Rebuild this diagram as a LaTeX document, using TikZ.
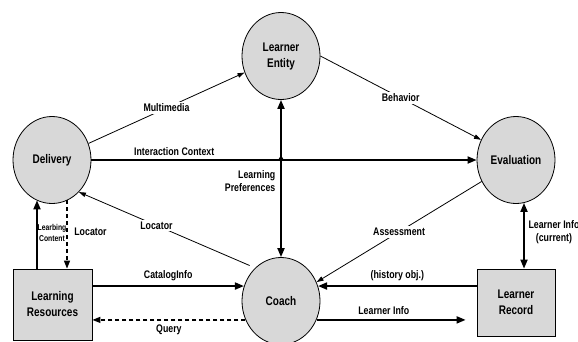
\documentclass[tikz,border=0pt]{standalone}
\usepackage{fontspec}
\setmainfont{Liberation Sans}[FakeStretch=0.8]
\usetikzlibrary{arrows.meta,shapes.geometric}
\definecolor{boxgray}{RGB}{216,216,216}

\begin{document}
\begin{tikzpicture}[x=1pt,y=-1pt,
  proc/.style={ellipse, draw, line width=0.8pt, fill=boxgray,
    minimum width=78pt, minimum height=87pt, inner sep=0pt, align=center,
    font=\fontsize{12.5}{16}\selectfont\bfseries},
  store/.style={rectangle, draw, line width=0.8pt, fill=boxgray,
    inner sep=0pt, align=center, font=\fontsize{12.5}{16}\selectfont\bfseries},
  lbl/.style={font=\fontsize{11}{13}\selectfont\bfseries, inner sep=1.5pt, align=center},
  smalllbl/.style={font=\fontsize{8.5}{10.5}\selectfont\bfseries, inner sep=0pt, align=center},
  flow/.style={line width=0.8pt, >={Triangle[length=7pt,width=4.5pt]}},
  heavy/.style={line width=1.8pt, >={Triangle[length=9pt,width=7pt]}},
  dashflow/.style={line width=1.3pt, dash pattern=on 4pt off 3pt,
    >={Triangle[length=8pt,width=6pt]}},
  cover/.style={fill=white, inner sep=2pt}
]
\useasboundingbox (0,0) rectangle (578,341);
\clip (0,0) rectangle (578,341);

% processes
\node[proc] (LE) at (281,56)  {Learner\\Entity};
\node[proc] (DL) at (52,160)  {Delivery};
\node[proc] (EV) at (516,160) {Evaluation};
\node[proc] (CO) at (281,301) {Coach};

% stores
\node[store, minimum width=79pt, minimum height=71pt] (LR) at (52.5,304.5) {Learning\\Resources};
\node[store, minimum width=78pt, minimum height=67pt] (RC) at (516,302.5) {Learner\\Record};

% upper triangle
\draw[flow,->] (DL) -- (LE) node[lbl, cover, midway] {Multimedia};
\draw[flow,->] (LE.east) -- (EV.150) node[lbl, cover, midway] {Behavior};
\draw[heavy,->] (DL.east) -- (EV.west)
  node[lbl, pos=0.215, above=2pt] {Interaction Context};
\draw[heavy,<->] (LE.south) -- (CO.north);
% small hop where the two heavy lines cross
\coordinate (X) at (LE.south |- DL.east);
\fill ([yshift=0.8pt]X) circle (2.3pt);
\node[lbl, anchor=east, align=right] (pref) at (277,181) {Learning\\Preferences};

% feedback to coach and delivery
\draw[flow,->, shorten <=6pt] (CO.128) -- (DL.-50) node[lbl, cover, pos=0.56] {Locator};
\draw[flow,->] (EV.212) -- (CO.28) node[lbl, cover, midway] {Assessment};

% delivery <-> learning resources
\coordinate (lrA) at ([xshift=-15.5pt]LR.north);
\coordinate (lrB) at ([xshift=14.5pt]LR.north);
\draw[heavy,->] (lrA) -- (lrA |- DL.249);
\draw[dashflow,->] (lrB |- DL.291) -- (lrB);
\node[smalllbl] (lcont) at (52,233) {Learbing\\Content};
\node[lbl] (loc2) at (90.5,232) {Locator};

% learning resources <-> coach
\draw[heavy,->] (LR.east |- CO.158) -- (CO.158)
  node[lbl, midway, above=3pt] {CatalogInfo};
\draw[dashflow,->] (CO.208) -- (LR.east |- CO.208)
  node[lbl, midway, below=3pt] {Query};

% learner record <-> coach
\draw[heavy,->] (RC.west |- CO.22) -- (CO.22)
  node[lbl, midway, above=3pt] {(history obj.)};
\draw[heavy,->, shorten >=11pt] (CO.-28) -- (RC.west |- CO.-28)
  node[lbl, pos=0.42, above=3pt] {Learner Info};

% evaluation <-> learner record
\coordinate (rcA) at ([xshift=8pt]RC.north);
\draw[heavy,<->] (rcA |- EV.281) -- (rcA);
\node[lbl] (cur) at (554,232) {Learner Info\\(current)};
\end{tikzpicture}
\end{document}
